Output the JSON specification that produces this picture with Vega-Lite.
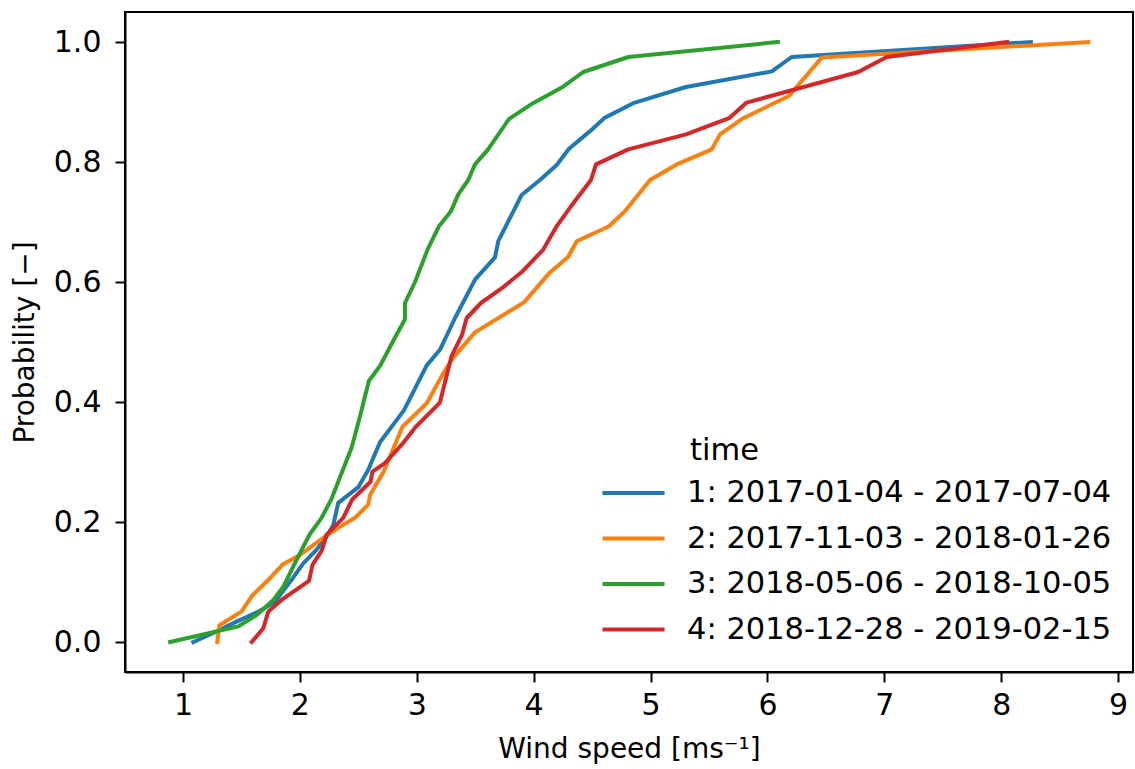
{
  "$schema": "https://vega.github.io/schema/vega-lite/v6.json",
  "width": 1008,
  "height": 660,
  "autosize": {"type": "none"},
  "padding": {"left": 125, "top": 12, "right": 2, "bottom": 97},
  "background": "white",
  "config": {
    "view": {"stroke": "black", "strokeWidth": 2},
    "font": "DejaVu Sans",
    "axis": {
      "grid": false,
      "domainColor": "black",
      "domainWidth": 2,
      "tickColor": "black",
      "tickWidth": 2,
      "tickSize": 10,
      "labelFont": "DejaVu Sans",
      "labelFontSize": 30,
      "labelColor": "black",
      "titleFont": "DejaVu Sans",
      "titleFontSize": 28,
      "titleFontWeight": "normal",
      "titleColor": "black"
    }
  },
  "data": {
    "values": [
      {"time": "1: 2017-01-04 - 2017-07-04", "speed": 1.088, "prob": 0.0},
      {"time": "1: 2017-01-04 - 2017-07-04", "speed": 1.259, "prob": 0.015},
      {"time": "1: 2017-01-04 - 2017-07-04", "speed": 1.459, "prob": 0.034},
      {"time": "1: 2017-01-04 - 2017-07-04", "speed": 1.659, "prob": 0.052},
      {"time": "1: 2017-01-04 - 2017-07-04", "speed": 1.787, "prob": 0.067},
      {"time": "1: 2017-01-04 - 2017-07-04", "speed": 1.93, "prob": 0.104},
      {"time": "1: 2017-01-04 - 2017-07-04", "speed": 2.029, "prob": 0.131},
      {"time": "1: 2017-01-04 - 2017-07-04", "speed": 2.144, "prob": 0.154},
      {"time": "1: 2017-01-04 - 2017-07-04", "speed": 2.229, "prob": 0.176},
      {"time": "1: 2017-01-04 - 2017-07-04", "speed": 2.286, "prob": 0.195},
      {"time": "1: 2017-01-04 - 2017-07-04", "speed": 2.328, "prob": 0.232},
      {"time": "1: 2017-01-04 - 2017-07-04", "speed": 2.5, "prob": 0.258},
      {"time": "1: 2017-01-04 - 2017-07-04", "speed": 2.585, "prob": 0.287},
      {"time": "1: 2017-01-04 - 2017-07-04", "speed": 2.685, "prob": 0.333},
      {"time": "1: 2017-01-04 - 2017-07-04", "speed": 2.89, "prob": 0.386},
      {"time": "1: 2017-01-04 - 2017-07-04", "speed": 3.085, "prob": 0.461},
      {"time": "1: 2017-01-04 - 2017-07-04", "speed": 3.198, "prob": 0.487},
      {"time": "1: 2017-01-04 - 2017-07-04", "speed": 3.327, "prob": 0.54},
      {"time": "1: 2017-01-04 - 2017-07-04", "speed": 3.498, "prob": 0.604},
      {"time": "1: 2017-01-04 - 2017-07-04", "speed": 3.669, "prob": 0.641},
      {"time": "1: 2017-01-04 - 2017-07-04", "speed": 3.697, "prob": 0.668},
      {"time": "1: 2017-01-04 - 2017-07-04", "speed": 3.897, "prob": 0.745},
      {"time": "1: 2017-01-04 - 2017-07-04", "speed": 4.054, "prob": 0.77},
      {"time": "1: 2017-01-04 - 2017-07-04", "speed": 4.197, "prob": 0.795},
      {"time": "1: 2017-01-04 - 2017-07-04", "speed": 4.302, "prob": 0.822},
      {"time": "1: 2017-01-04 - 2017-07-04", "speed": 4.48, "prob": 0.851},
      {"time": "1: 2017-01-04 - 2017-07-04", "speed": 4.61, "prob": 0.874},
      {"time": "1: 2017-01-04 - 2017-07-04", "speed": 4.852, "prob": 0.898},
      {"time": "1: 2017-01-04 - 2017-07-04", "speed": 5.303, "prob": 0.925},
      {"time": "1: 2017-01-04 - 2017-07-04", "speed": 6.038, "prob": 0.951},
      {"time": "1: 2017-01-04 - 2017-07-04", "speed": 6.207, "prob": 0.975},
      {"time": "1: 2017-01-04 - 2017-07-04", "speed": 8.254, "prob": 1.0},

      {"time": "2: 2017-11-03 - 2018-01-26", "speed": 1.293, "prob": 0.0},
      {"time": "2: 2017-11-03 - 2018-01-26", "speed": 1.312, "prob": 0.028},
      {"time": "2: 2017-11-03 - 2018-01-26", "speed": 1.502, "prob": 0.051},
      {"time": "2: 2017-11-03 - 2018-01-26", "speed": 1.595, "prob": 0.078},
      {"time": "2: 2017-11-03 - 2018-01-26", "speed": 1.723, "prob": 0.102},
      {"time": "2: 2017-11-03 - 2018-01-26", "speed": 1.851, "prob": 0.129},
      {"time": "2: 2017-11-03 - 2018-01-26", "speed": 2.001, "prob": 0.145},
      {"time": "2: 2017-11-03 - 2018-01-26", "speed": 2.187, "prob": 0.172},
      {"time": "2: 2017-11-03 - 2018-01-26", "speed": 2.334, "prob": 0.191},
      {"time": "2: 2017-11-03 - 2018-01-26", "speed": 2.471, "prob": 0.207},
      {"time": "2: 2017-11-03 - 2018-01-26", "speed": 2.585, "prob": 0.229},
      {"time": "2: 2017-11-03 - 2018-01-26", "speed": 2.6, "prob": 0.245},
      {"time": "2: 2017-11-03 - 2018-01-26", "speed": 2.72, "prob": 0.285},
      {"time": "2: 2017-11-03 - 2018-01-26", "speed": 2.878, "prob": 0.359},
      {"time": "2: 2017-11-03 - 2018-01-26", "speed": 3.085, "prob": 0.398},
      {"time": "2: 2017-11-03 - 2018-01-26", "speed": 3.233, "prob": 0.45},
      {"time": "2: 2017-11-03 - 2018-01-26", "speed": 3.312, "prob": 0.474},
      {"time": "2: 2017-11-03 - 2018-01-26", "speed": 3.498, "prob": 0.516},
      {"time": "2: 2017-11-03 - 2018-01-26", "speed": 3.917, "prob": 0.566},
      {"time": "2: 2017-11-03 - 2018-01-26", "speed": 4.139, "prob": 0.616},
      {"time": "2: 2017-11-03 - 2018-01-26", "speed": 4.296, "prob": 0.642},
      {"time": "2: 2017-11-03 - 2018-01-26", "speed": 4.368, "prob": 0.668},
      {"time": "2: 2017-11-03 - 2018-01-26", "speed": 4.644, "prob": 0.693},
      {"time": "2: 2017-11-03 - 2018-01-26", "speed": 4.781, "prob": 0.718},
      {"time": "2: 2017-11-03 - 2018-01-26", "speed": 4.995, "prob": 0.77},
      {"time": "2: 2017-11-03 - 2018-01-26", "speed": 5.223, "prob": 0.796},
      {"time": "2: 2017-11-03 - 2018-01-26", "speed": 5.523, "prob": 0.821},
      {"time": "2: 2017-11-03 - 2018-01-26", "speed": 5.594, "prob": 0.846},
      {"time": "2: 2017-11-03 - 2018-01-26", "speed": 5.793, "prob": 0.873},
      {"time": "2: 2017-11-03 - 2018-01-26", "speed": 6.184, "prob": 0.91},
      {"time": "2: 2017-11-03 - 2018-01-26", "speed": 6.464, "prob": 0.974},
      {"time": "2: 2017-11-03 - 2018-01-26", "speed": 8.744, "prob": 1.0},

      {"time": "3: 2018-05-06 - 2018-10-05", "speed": 0.89, "prob": 0.0},
      {"time": "3: 2018-05-06 - 2018-10-05", "speed": 1.474, "prob": 0.026},
      {"time": "3: 2018-05-06 - 2018-10-05", "speed": 1.63, "prob": 0.045},
      {"time": "3: 2018-05-06 - 2018-10-05", "speed": 1.773, "prob": 0.07},
      {"time": "3: 2018-05-06 - 2018-10-05", "speed": 1.858, "prob": 0.092},
      {"time": "3: 2018-05-06 - 2018-10-05", "speed": 1.944, "prob": 0.126},
      {"time": "3: 2018-05-06 - 2018-10-05", "speed": 2.029, "prob": 0.159},
      {"time": "3: 2018-05-06 - 2018-10-05", "speed": 2.086, "prob": 0.18},
      {"time": "3: 2018-05-06 - 2018-10-05", "speed": 2.186, "prob": 0.207},
      {"time": "3: 2018-05-06 - 2018-10-05", "speed": 2.272, "prob": 0.239},
      {"time": "3: 2018-05-06 - 2018-10-05", "speed": 2.358, "prob": 0.282},
      {"time": "3: 2018-05-06 - 2018-10-05", "speed": 2.443, "prob": 0.324},
      {"time": "3: 2018-05-06 - 2018-10-05", "speed": 2.514, "prob": 0.376},
      {"time": "3: 2018-05-06 - 2018-10-05", "speed": 2.59, "prob": 0.435},
      {"time": "3: 2018-05-06 - 2018-10-05", "speed": 2.685, "prob": 0.46},
      {"time": "3: 2018-05-06 - 2018-10-05", "speed": 2.813, "prob": 0.507},
      {"time": "3: 2018-05-06 - 2018-10-05", "speed": 2.899, "prob": 0.538},
      {"time": "3: 2018-05-06 - 2018-10-05", "speed": 2.899, "prob": 0.565},
      {"time": "3: 2018-05-06 - 2018-10-05", "speed": 2.985, "prob": 0.6},
      {"time": "3: 2018-05-06 - 2018-10-05", "speed": 3.092, "prob": 0.654},
      {"time": "3: 2018-05-06 - 2018-10-05", "speed": 3.19, "prob": 0.693},
      {"time": "3: 2018-05-06 - 2018-10-05", "speed": 3.292, "prob": 0.718},
      {"time": "3: 2018-05-06 - 2018-10-05", "speed": 3.355, "prob": 0.746},
      {"time": "3: 2018-05-06 - 2018-10-05", "speed": 3.44, "prob": 0.77},
      {"time": "3: 2018-05-06 - 2018-10-05", "speed": 3.498, "prob": 0.796},
      {"time": "3: 2018-05-06 - 2018-10-05", "speed": 3.61, "prob": 0.821},
      {"time": "3: 2018-05-06 - 2018-10-05", "speed": 3.79, "prob": 0.872},
      {"time": "3: 2018-05-06 - 2018-10-05", "speed": 3.994, "prob": 0.898},
      {"time": "3: 2018-05-06 - 2018-10-05", "speed": 4.24, "prob": 0.924},
      {"time": "3: 2018-05-06 - 2018-10-05", "speed": 4.424, "prob": 0.95},
      {"time": "3: 2018-05-06 - 2018-10-05", "speed": 4.81, "prob": 0.975},
      {"time": "3: 2018-05-06 - 2018-10-05", "speed": 6.09, "prob": 1.0},

      {"time": "4: 2018-12-28 - 2019-02-15", "speed": 1.588, "prob": 0.0},
      {"time": "4: 2018-12-28 - 2019-02-15", "speed": 1.687, "prob": 0.023},
      {"time": "4: 2018-12-28 - 2019-02-15", "speed": 1.73, "prob": 0.051},
      {"time": "4: 2018-12-28 - 2019-02-15", "speed": 1.856, "prob": 0.072},
      {"time": "4: 2018-12-28 - 2019-02-15", "speed": 2.078, "prob": 0.102},
      {"time": "4: 2018-12-28 - 2019-02-15", "speed": 2.108, "prob": 0.129},
      {"time": "4: 2018-12-28 - 2019-02-15", "speed": 2.186, "prob": 0.152},
      {"time": "4: 2018-12-28 - 2019-02-15", "speed": 2.229, "prob": 0.179},
      {"time": "4: 2018-12-28 - 2019-02-15", "speed": 2.371, "prob": 0.207},
      {"time": "4: 2018-12-28 - 2019-02-15", "speed": 2.446, "prob": 0.237},
      {"time": "4: 2018-12-28 - 2019-02-15", "speed": 2.604, "prob": 0.267},
      {"time": "4: 2018-12-28 - 2019-02-15", "speed": 2.621, "prob": 0.284},
      {"time": "4: 2018-12-28 - 2019-02-15", "speed": 2.728, "prob": 0.298},
      {"time": "4: 2018-12-28 - 2019-02-15", "speed": 2.885, "prob": 0.332},
      {"time": "4: 2018-12-28 - 2019-02-15", "speed": 2.993, "prob": 0.359},
      {"time": "4: 2018-12-28 - 2019-02-15", "speed": 3.198, "prob": 0.399},
      {"time": "4: 2018-12-28 - 2019-02-15", "speed": 3.298, "prob": 0.477},
      {"time": "4: 2018-12-28 - 2019-02-15", "speed": 3.387, "prob": 0.512},
      {"time": "4: 2018-12-28 - 2019-02-15", "speed": 3.427, "prob": 0.54},
      {"time": "4: 2018-12-28 - 2019-02-15", "speed": 3.549, "prob": 0.565},
      {"time": "4: 2018-12-28 - 2019-02-15", "speed": 3.737, "prob": 0.591},
      {"time": "4: 2018-12-28 - 2019-02-15", "speed": 3.9, "prob": 0.617},
      {"time": "4: 2018-12-28 - 2019-02-15", "speed": 4.082, "prob": 0.654},
      {"time": "4: 2018-12-28 - 2019-02-15", "speed": 4.2, "prob": 0.694},
      {"time": "4: 2018-12-28 - 2019-02-15", "speed": 4.353, "prob": 0.735},
      {"time": "4: 2018-12-28 - 2019-02-15", "speed": 4.49, "prob": 0.77},
      {"time": "4: 2018-12-28 - 2019-02-15", "speed": 4.533, "prob": 0.796},
      {"time": "4: 2018-12-28 - 2019-02-15", "speed": 4.809, "prob": 0.821},
      {"time": "4: 2018-12-28 - 2019-02-15", "speed": 5.303, "prob": 0.846},
      {"time": "4: 2018-12-28 - 2019-02-15", "speed": 5.671, "prob": 0.873},
      {"time": "4: 2018-12-28 - 2019-02-15", "speed": 5.822, "prob": 0.899},
      {"time": "4: 2018-12-28 - 2019-02-15", "speed": 6.777, "prob": 0.95},
      {"time": "4: 2018-12-28 - 2019-02-15", "speed": 7.02, "prob": 0.975},
      {"time": "4: 2018-12-28 - 2019-02-15", "speed": 8.051, "prob": 1.0}
    ]
  },
  "mark": {"type": "line", "strokeWidth": 4, "strokeCap": "square", "strokeJoin": "round", "clip": true},
  "encoding": {
    "x": {
      "field": "speed",
      "type": "quantitative",
      "scale": {"domain": [0.504, 9.127], "nice": false, "zero": false},
      "axis": {
        "values": [1, 2, 3, 4, 5, 6, 7, 8, 9],
        "format": "d",
        "title": "Wind speed [ms⁻¹]",
        "labelPadding": 8,
        "titlePadding": 15
      }
    },
    "y": {
      "field": "prob",
      "type": "quantitative",
      "scale": {"domain": [-0.05, 1.05], "nice": false, "zero": false},
      "axis": {
        "values": [0, 0.2, 0.4, 0.6, 0.8, 1.0],
        "format": ".1f",
        "title": "Probability [−]",
        "labelPadding": 14,
        "titlePadding": 14
      }
    },
    "order": {"field": "prob", "type": "quantitative"},
    "color": {
      "field": "time",
      "type": "nominal",
      "scale": {"range": ["#1f77b4", "#ff7f0e", "#2ca02c", "#d62728"]},
      "legend": {
        "orient": "none",
        "legendX": 493,
        "legendY": 424,
        "padding": 0,
        "title": "time",
        "titleFont": "DejaVu Sans",
        "titleFontSize": 30.5,
        "titleFontWeight": "normal",
        "titleColor": "black",
        "titleAnchor": "start",
        "titlePadding": 11,
        "labelFont": "DejaVu Sans",
        "labelFontSize": 30.5,
        "labelColor": "black",
        "labelLimit": 700,
        "labelOffset": 38,
        "symbolType": "M-2.3,0H2.3",
        "symbolSize": 729,
        "symbolStrokeWidth": 4,
        "rowPadding": 14.5,
        "encoding": {"title": {"dx": {"value": 72}}}
      }
    }
  }
}
